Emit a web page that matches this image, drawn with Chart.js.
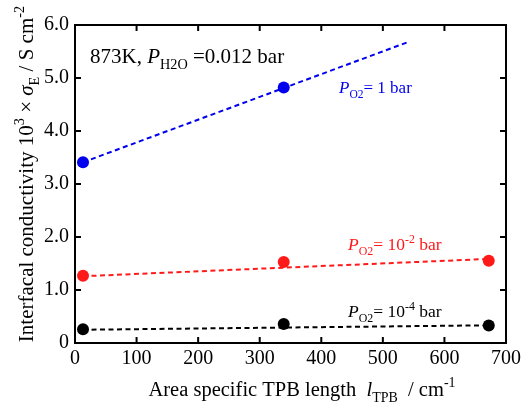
<!DOCTYPE html>
<html>
<head>
<meta charset="utf-8">
<script src="https://cdn.jsdelivr.net/npm/chart.js@4.4.1/dist/chart.umd.min.js"></script>
<style>
html,body{margin:0;padding:0;background:#fff;}
#wrap{width:531px;height:406px;position:relative;}
</style>
</head>
<body>
<div id="wrap"><canvas id="c" width="531" height="406"></canvas></div>
<script>
// ---- data ----
const tpbLength = [13, 339, 672];            // area specific TPB length, cm^-1
const sigma_1bar = [3.41, 4.82];             // PO2 = 1 bar (two samples)
const sigma_1e2 = [1.27, 1.53, 1.55];        // PO2 = 10^-2 bar
const sigma_1e4 = [0.26, 0.36, 0.33];        // PO2 = 10^-4 bar
// linear-fit lines (endpoints)
const fit1bar_x = [13, 539];  const fit1bar_y = [3.41, 5.67];
const fit1e2_x  = [13, 669];  const fit1e2_y  = [1.26, 1.585];
const fit1e4_x  = [13, 666];  const fit1e4_y  = [0.25, 0.333];
const xTicks = [0, 100, 200, 300, 400, 500, 600, 700];
const yTicks = [0, 1, 2, 3, 4, 5, 6];

const BLUE = '#0000ee', RED = '#ff1a1a', BLACK = '#000000';
const SERIF = '"Liberation Serif","Times New Roman",serif';

function pts(xs, ys){ return xs.map((x,i)=>({x:x, y:ys[i]})); }

function drawRich(ctx, segs, x, y, size, color, align){
  const fontOf = (s)=>{
    const sz = s.sub||s.sup ? size*0.68 : size;
    return (s.i?'italic ':'') + sz + 'px ' + SERIF;
  };
  let w = 0;
  segs.forEach(s=>{ ctx.font = fontOf(s); s._w = ctx.measureText(s.t).width; w += s._w; });
  let cx = align==='center' ? x - w/2 : x;
  ctx.fillStyle = color;
  ctx.textBaseline = 'alphabetic';
  ctx.textAlign = 'left';
  segs.forEach(s=>{
    ctx.font = fontOf(s);
    let dy = 0;
    if (s.sub) dy = size*0.28;
    if (s.sup) dy = -size*0.42;
    ctx.fillText(s.t, cx, y + dy);
    cx += s._w;
  });
}

const framePlugin = {
  id: 'frame',
  afterDatasetsDraw(chart){
    const ctx = chart.ctx, a = chart.chartArea;
    const xs = chart.scales.x, ys = chart.scales.y;
    ctx.save();
    ctx.strokeStyle = '#000';
    ctx.lineWidth = 2;
    ctx.strokeRect(a.left, a.top, a.right - a.left, a.bottom - a.top);
    const tl = 6;
    ctx.beginPath();
    xTicks.forEach(v=>{
      const px = xs.getPixelForValue(v);
      ctx.moveTo(px, a.bottom); ctx.lineTo(px, a.bottom - tl);
      ctx.moveTo(px, a.top); ctx.lineTo(px, a.top + tl);
    });
    yTicks.forEach(v=>{
      const py = ys.getPixelForValue(v);
      ctx.moveTo(a.left, py); ctx.lineTo(a.left + tl, py);
      ctx.moveTo(a.right, py); ctx.lineTo(a.right - tl, py);
    });
    ctx.stroke();

    // annotations
    drawRich(ctx, [{t:'873K, '},{t:'P',i:true},{t:'H2O',sub:true},{t:' =0.012 bar'}], a.left+15, a.top+38, 21, BLACK);
    drawRich(ctx, [{t:'P',i:true},{t:'O2',sub:true},{t:'= 1 bar'}], a.left+264, a.top+68, 17, BLUE);
    drawRich(ctx, [{t:'P',i:true},{t:'O2',sub:true},{t:'= 10'},{t:'-2',sup:true},{t:' bar'}], a.left+273, a.top+225, 17.5, RED);
    drawRich(ctx, [{t:'P',i:true},{t:'O2',sub:true},{t:'= 10'},{t:'-4',sup:true},{t:' bar'}], a.left+273, a.top+292, 17.5, BLACK);

    // x axis title
    drawRich(ctx, [{t:'Area specific TPB length  '},{t:'l',i:true},{t:'TPB',sub:true},{t:'  / cm'},{t:'-1',sup:true}], 302, 396, 20.5, BLACK, 'center');
    // y axis title (rotated)
    ctx.translate(33, 174);
    ctx.rotate(-Math.PI/2);
    drawRich(ctx, [{t:'Interfacal conductivity 10'},{t:'3',sup:true},{t:' \u00d7 '},{t:'\u03c3',i:true},{t:'E',sub:true},{t:' / S cm'},{t:'-2',sup:true}], 0, 0, 21, BLACK, 'center');
    ctx.restore();
  }
};

function fitDs(xs, ys, color){
  return {type:'line', data: pts(xs, ys), borderColor: color, borderWidth: 2,
          borderDash: [5, 3.5], pointRadius: 0, fill: false, tension: 0, order: 2};
}
function ptDs(xs, ys, color){
  return {type:'scatter', data: pts(xs, ys), backgroundColor: color, borderColor: color,
          pointRadius: 6, pointHoverRadius: 6, borderWidth: 0, showLine: false, order: 1};
}

new Chart(document.getElementById('c'), {
  type: 'scatter',
  data: {
    datasets: [
      fitDs(fit1bar_x, fit1bar_y, BLUE),
      fitDs(fit1e2_x, fit1e2_y, RED),
      fitDs(fit1e4_x, fit1e4_y, BLACK),
      ptDs(tpbLength.slice(0, sigma_1bar.length), sigma_1bar, BLUE),
      ptDs(tpbLength, sigma_1e2, RED),
      ptDs(tpbLength, sigma_1e4, BLACK)
    ]
  },
  options: {
    responsive: false,
    animation: false,
    devicePixelRatio: 1,
    layout: {padding: {top: 25, right: 25, left: 0, bottom: 0}},
    plugins: {legend: {display: false}, tooltip: {enabled: false}},
    scales: {
      x: {
        type: 'linear', min: 0, max: 700,
        afterFit(s){ s.height = 63; },
        afterBuildTicks(s){ s.ticks = xTicks.map(v=>({value:v})); },
        grid: {display: false, drawTicks: false},
        border: {display: false},
        ticks: {color: '#000', font: {family: SERIF, size: 20}, padding: 4, maxRotation: 0,
                callback: v => String(v)}
      },
      y: {
        type: 'linear', min: 0, max: 6,
        afterFit(s){ s.width = 75; },
        afterBuildTicks(s){ s.ticks = yTicks.map(v=>({value:v})); },
        grid: {display: false, drawTicks: false},
        border: {display: false},
        ticks: {color: '#000', font: {family: SERIF, size: 20}, padding: 6,
                callback: v => v === 0 ? '0' : v.toFixed(1)}
      }
    }
  },
  plugins: [framePlugin]
});
</script>
</body>
</html>
